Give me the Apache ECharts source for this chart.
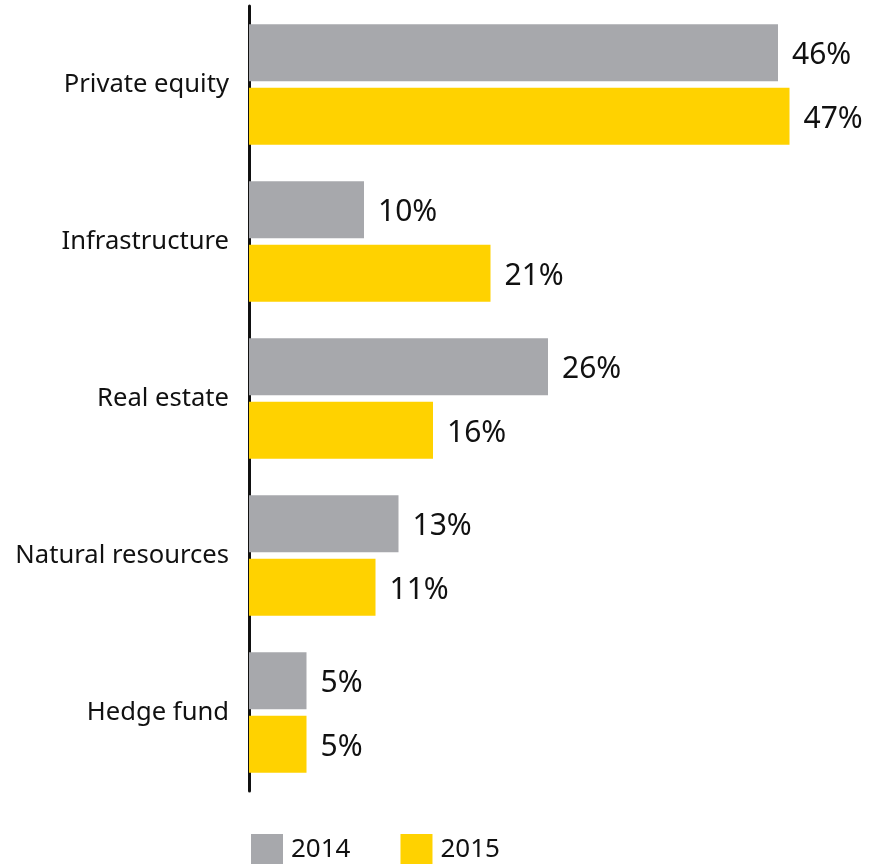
<!DOCTYPE html>
<html>
<head>
<meta charset="utf-8">
<script src="https://cdn.jsdelivr.net/npm/echarts@6/dist/echarts.min.js"></script>
<style>
  html, body { margin: 0; padding: 0; background: #ffffff; }
  #chart { width: 871px; height: 864px; }
</style>
</head>
<body>
<div id="chart"></div>
<script>
// Share of respondents by asset class, 2014 vs 2015 (%)
const categories = ['Private equity', 'Infrastructure', 'Real estate', 'Natural resources', 'Hedge fund'];
const values2014 = [46, 10, 26, 13, 5];
const values2015 = [47, 21, 16, 11, 5];
const seriesNames = ['2014', '2015'];

const GREY = '#a7a8ac';
const YELLOW = '#ffd200';
const FONT = '"Noto Sans", "DejaVu Sans", sans-serif';

const chart = echarts.init(document.getElementById('chart'), null, { renderer: 'canvas' });

const valueLabel = {
  show: true,
  position: 'right',
  distance: 14,
  offset: [0, 3],
  formatter: p => p.value + '%',
  color: '#111111',
  fontSize: 30,
  fontFamily: FONT
};

chart.setOption({
  animation: false,
  backgroundColor: '#ffffff',
  grid: { left: 249, right: 47, top: 6, height: 785 },
  legend: {
    data: seriesNames,
    left: 251,
    top: 834,
    padding: 0,
    itemWidth: 32,
    itemHeight: 32,
    itemGap: 50,
    icon: 'rect',
    textStyle: { fontSize: 26, color: '#111111', fontFamily: FONT, padding: [4, 0, 0, 3] }
  },
  xAxis: {
    type: 'value',
    min: 0,
    max: 50,
    show: false
  },
  yAxis: {
    type: 'category',
    data: categories,
    inverse: true,
    axisLine: { show: true, lineStyle: { color: '#111111', width: 3 } },
    axisTick: { show: false },
    axisLabel: {
      margin: 20,
      fontSize: 25.6,
      color: '#111111',
      fontFamily: FONT
    },
    splitLine: { show: false }
  },
  series: [
    {
      name: seriesNames[0],
      type: 'bar',
      data: values2014,
      barWidth: 57,
      barGap: '11%',
      itemStyle: { color: GREY },
      label: valueLabel
    },
    {
      name: seriesNames[1],
      type: 'bar',
      data: values2015,
      barWidth: 57,
      barGap: '11%',
      itemStyle: { color: YELLOW },
      label: valueLabel
    }
  ]
});
</script>
</body>
</html>
